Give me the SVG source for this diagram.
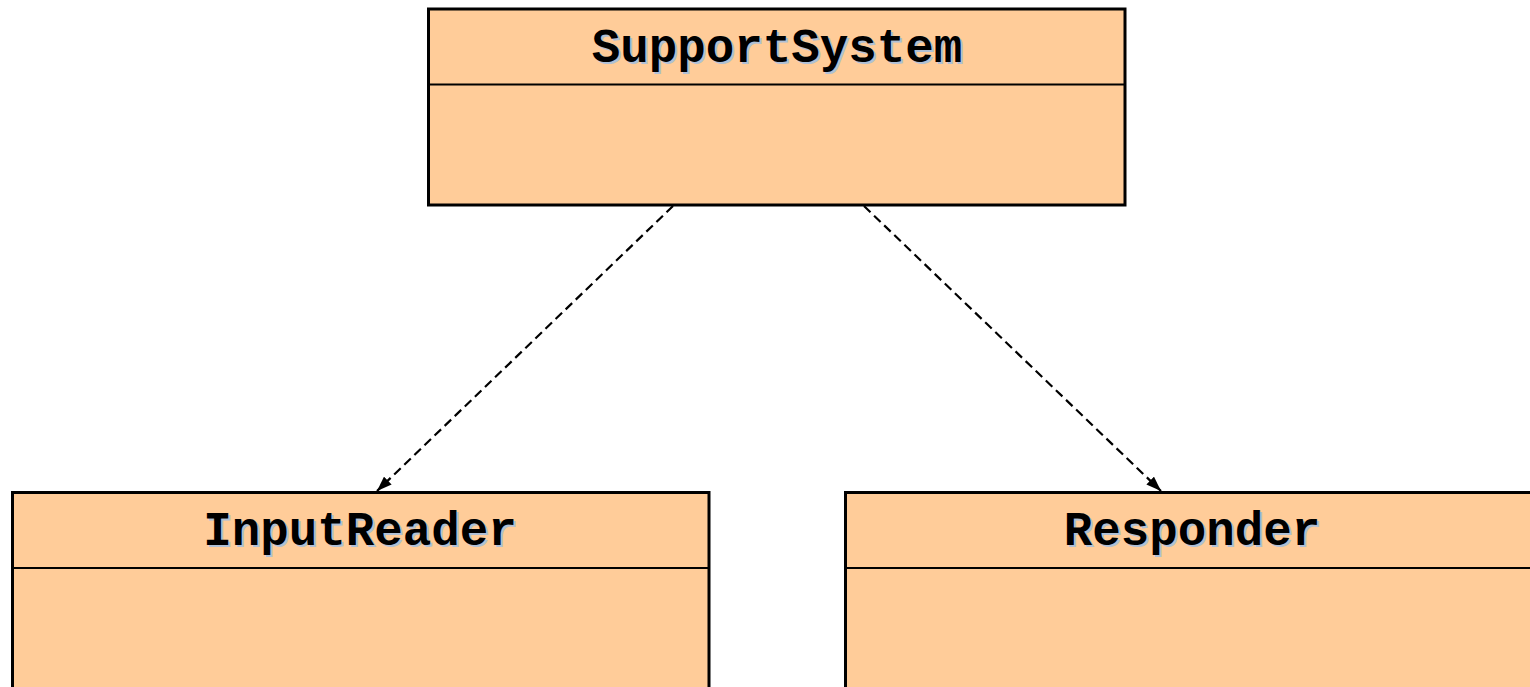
<svg xmlns="http://www.w3.org/2000/svg" width="1530" height="687" viewBox="0 0 1530 687">
<style>
.box{fill:#FFCC99;stroke:#000;stroke-width:3}
.sep{stroke:#000;stroke-width:2}
.name{font-family:"Liberation Mono","Courier New",monospace;font-weight:bold;font-size:47.5px;text-anchor:middle;fill:#000}
.shadow{font-family:"Liberation Mono","Courier New",monospace;font-weight:bold;font-size:47.5px;text-anchor:middle;fill:#AFC0D6}
.dep{fill:none;stroke:#000;stroke-width:2.2;stroke-dasharray:9 5}
</style>
<defs>
<marker id="arrow" viewBox="0 0 10 10" refX="10" refY="5" markerWidth="15" markerHeight="11" markerUnits="userSpaceOnUse" orient="auto" preserveAspectRatio="none">
<path d="M0,0 L10,5 L0,10 z" fill="#000"/>
</marker>
</defs>
<g id="connectors">
<line class="dep" x1="673" y1="206" x2="377" y2="491" marker-end="url(#arrow)"/>
<line class="dep" x1="864" y1="206" x2="1161" y2="491" marker-end="url(#arrow)"/>
</g>
<g id="SupportSystem">
<rect class="box" x="428.5" y="9" width="696.5" height="196"/>
<line class="sep" x1="428.5" y1="84.5" x2="1125" y2="84.5"/>
<text class="shadow" x="779" y="64">SupportSystem</text>
<text class="name" x="777" y="62">SupportSystem</text>
</g>
<g id="InputReader">
<rect class="box" x="12.5" y="492.5" width="696.5" height="210"/>
<line class="sep" x1="12.5" y1="568" x2="709" y2="568"/>
<text class="shadow" x="362" y="547">InputReader</text>
<text class="name" x="360" y="545">InputReader</text>
</g>
<g id="Responder">
<rect class="box" x="845.5" y="492.5" width="696.5" height="210"/>
<line class="sep" x1="845.5" y1="568" x2="1542" y2="568"/>
<text class="shadow" x="1194" y="547">Responder</text>
<text class="name" x="1192" y="545">Responder</text>
</g>
</svg>
